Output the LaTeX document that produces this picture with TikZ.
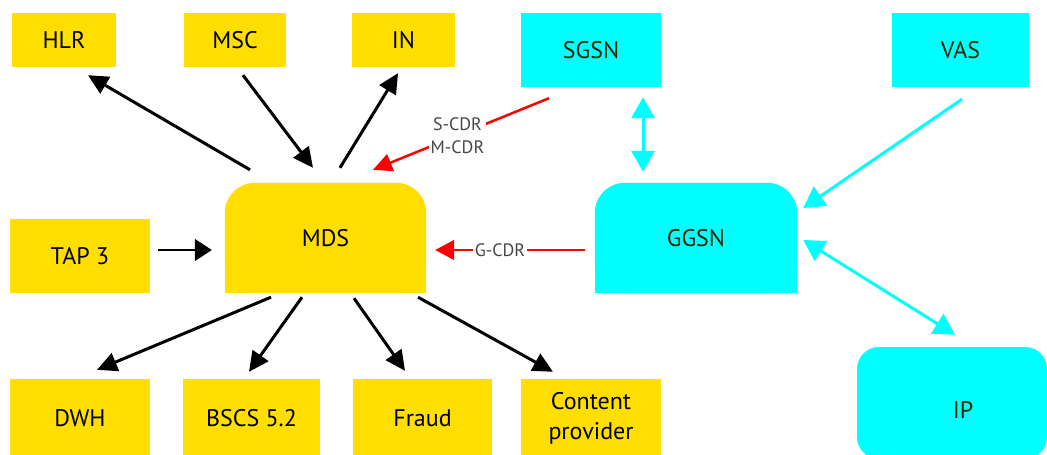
\documentclass[tikz,border=0pt]{standalone}
\usepackage{fontspec}
\setmainfont{PT Sans}
\usetikzlibrary{arrows.meta,backgrounds,calc}
\definecolor{myyellow}{RGB}{255,222,0}
\definecolor{mycyan}{RGB}{0,255,255}
\definecolor{myred}{RGB}{255,0,0}
\definecolor{labelgrey}{RGB}{70,70,70}
\definecolor{cyantext}{RGB}{45,38,0}
\begin{document}
\begin{tikzpicture}[x=1pt,y=-1pt,
  box/.style={rectangle, inner sep=0pt, font=\fontsize{24}{30}\selectfont, align=center, text=black},
  ybox/.style={box, fill=myyellow},
  cbox/.style={box, fill=mycyan, text=cyantext},
  hollow/.style={box},
  blk/.style={draw=black, line width=3pt, -{Triangle[length=20pt,width=19pt]}},
  thinblk/.style={draw=black, line width=1.3pt, -{Triangle[length=17pt,width=22pt]}},
  redthick/.style={draw=myred, line width=2.5pt, -{Triangle[length=19pt,width=18pt]}},
  redthin/.style={draw=myred, line width=1.3pt, -{Triangle[length=19pt,width=20pt]}},
  cyn/.style={draw=mycyan, line width=3pt, -{Triangle[length=21pt,width=23pt]}},
  cyn2/.style={draw=mycyan, line width=3pt, {Triangle[length=21pt,width=23pt]}-{Triangle[length=21pt,width=23pt]}},
  cdrlabel/.style={fill=white, inner sep=1.5pt, text=labelgrey, align=center, font=\fontsize{18}{23}\selectfont}
]
\useasboundingbox (0,0) rectangle (1047,455);

% top row
\node[ybox, minimum width=104pt, minimum height=54pt] (hlr) at (64,40) {HLR};
\node[ybox, minimum width=102pt, minimum height=54pt] (msc) at (235,40) {MSC};
\node[ybox, minimum width=103pt, minimum height=54pt] (in) at (403.5,40) {IN};
\node[cbox, minimum width=140pt, minimum height=74pt] (sgsn) at (591,50) {SGSN};
\node[cbox, minimum width=137pt, minimum height=74pt] (vas) at (960.5,50) {VAS};

% middle row
\node[ybox, minimum width=140pt, minimum height=74pt] (tap) at (80,256) {TAP 3};
\node[hollow, minimum width=201pt, minimum height=110pt] (mds) at (325.5,238) {MDS};
\node[hollow, text=cyantext, minimum width=202pt, minimum height=110pt] (ggsn) at (696,238) {GGSN};
\node[cbox, rounded corners=22pt, minimum width=190pt, minimum height=112pt,
      label={[text=cyantext, font=\fontsize{24}{30}\selectfont, xshift=11pt, yshift=-7pt]center:IP}] (ip) at (952,403) {};

% bottom row
\node[ybox, minimum width=140pt, minimum height=78pt] (dwh) at (80,418) {DWH};
\node[ybox, minimum width=137pt, minimum height=78pt] (bscs) at (251.5,418) {BSCS 5.2};
\node[ybox, minimum width=139pt, minimum height=78pt] (fraud) at (422.5,418) {Fraud};
\node[ybox, minimum width=140pt, minimum height=78pt] (cp) at (591,418) {Content\\provider};

\begin{scope}[on background layer]
  \fill[myyellow, rounded corners=30pt] (mds.south west) rectangle (mds.north east);
  \fill[myyellow] (mds.south west) rectangle (mds.east);
  \fill[mycyan, rounded corners=30pt] (ggsn.south west) rectangle (ggsn.north east);
  \fill[mycyan] (ggsn.south west) rectangle (ggsn.east);
\end{scope}

% black connectors
\draw[blk] ([shift={(-75.5,-13)}]mds.north) -- ([shift={(24,8)}]hlr.south);
\draw[blk] ([shift={(8,8)}]msc.south) -- ([shift={(-12.5,-15)}]mds.north);
\draw[blk] ([shift={(14.5,-15)}]mds.north) -- ([shift={(-5.5,6)}]in.south);
\draw[thinblk] ([shift={(8,-6)}]tap.east) -- ([shift={(-13,12)}]mds.west);
\draw[blk] ([shift={(-54.5,4)}]mds.south) -- ([shift={(17,-9)}]dwh.north);
\draw[blk] ([shift={(-23.5,4)}]mds.south) -- ([shift={(-2.5,-7)}]bscs.north);
\draw[blk] ([shift={(28.5,5)}]mds.south) -- ([shift={(-17.5,-8)}]fraud.north);
\draw[blk] ([shift={(92.5,4)}]mds.south) -- ([shift={(-38,-7)}]cp.north);

% red CDR connectors
\draw[redthick] ([shift={(-42,11)}]sgsn.south) -- node[cdrlabel, pos=0.52] (scdr) {S-CDR\\M-CDR} ([shift={(47.5,-13)}]mds.north);
\draw[redthin] ([shift={(-10,12)}]ggsn.west) -- node[cdrlabel, pos=0.567] (gcdr) {G-CDR} ([shift={(9,12)}]mds.east);

% cyan connectors
\draw[cyn2] ([shift={(52,10)}]sgsn.south) -- ([shift={(-53,-11)}]ggsn.north);
\draw[cyn] ([shift={(1.5,12)}]vas.south) -- ([shift={(6,-30)}]ggsn.east);
\draw[cyn2] ([shift={(6,2)}]ggsn.east) -- ([shift={(3,-12)}]ip.north);
\end{tikzpicture}
\end{document}
